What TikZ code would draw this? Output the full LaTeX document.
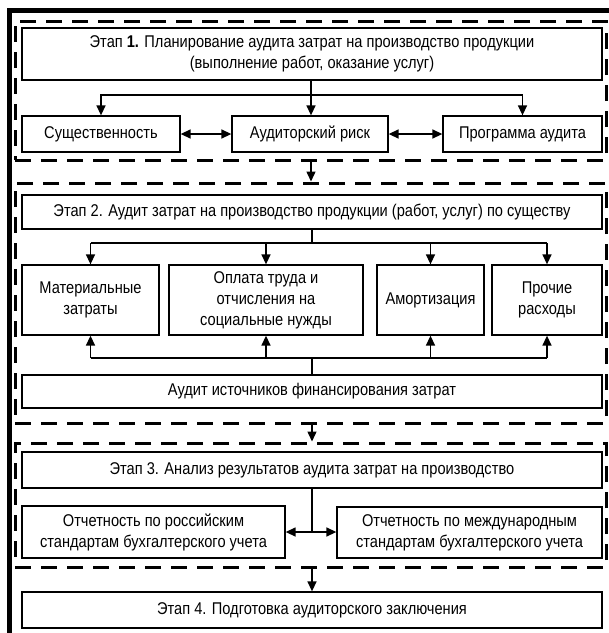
\documentclass[tikz,border=0pt]{standalone}
\usepackage{fontspec}
\setmainfont{Liberation Sans}[FakeStretch=0.86]
\usetikzlibrary{arrows.meta}
\begin{document}
\begin{tikzpicture}[x=1pt,y=-1pt,
  every node/.style={font=\fontsize{17}{21}\selectfont},
  box/.style={draw,line width=1.3pt,inner sep=0pt,align=center,fill=white},
  dbox/.style={draw,line width=3pt,dash pattern=on 16pt off 10pt,inner sep=0pt},
  arr/.style={line width=1.4pt,-{Triangle[length=10pt,width=9pt]}},
  darr/.style={line width=1.4pt,{Triangle[length=10pt,width=9pt]}-{Triangle[length=10pt,width=9pt]}},
  ln/.style={line width=1.4pt}]
\useasboundingbox (0,0) rectangle (609,633);
% outer frame
\draw[line width=4.5pt] (9.5,633) -- (9.5,10.5) -- (609,10.5);
% dashed frames
\node[dbox,minimum width=591pt,minimum height=139pt] (d1) at (310.5,90.5) {};
\node[dbox,minimum width=591pt,minimum height=240pt] (d2) at (310.5,303) {};
\node[dbox,minimum width=591pt,minimum height=124pt] (d3) at (310.5,505) {};
% stage 1
\node[box,minimum width=580pt,minimum height=52pt] (s1) at (312,54) {Этап \textbf{1.} Планирование аудита затрат на производство продукции\\(выполнение работ, оказание услуг)};
\node[box,minimum width=158pt,minimum height=36pt] (sus) at (101,134) {Существенность};
\node[box,minimum width=156pt,minimum height=36pt] (risk) at (310,134) {Аудиторский риск};
\node[box,minimum width=159pt,minimum height=36pt] (prog) at (522.5,134) {Программа аудита};
\coordinate (h1) at (311,95);
\draw[arr] (s1.south -| h1) -- (risk.north -| h1);
\draw[arr] (h1) -| (sus.north);
\draw[arr] (h1) -| (prog.north);
\draw[darr] (sus.east) -- (risk.west);
\draw[darr] (risk.east) -- (prog.west);
\draw[arr] (d1.south -| h1) -- (d2.north -| h1);
% stage 2
\node[box,minimum width=580pt,minimum height=34pt] (s2) at (312,212) {Этап 2. Аудит затрат на производство продукции (работ, услуг) по существу};
\node[box,minimum width=137pt,minimum height=70pt] (mat) at (90.5,300) {Материальные\\затраты};
\node[box,minimum width=194pt,minimum height=70pt] (opl) at (266,300) {Оплата труда и\\отчисления на\\социальные нужды};
\node[box,minimum width=107pt,minimum height=70pt] (am) at (430.5,300) {Амортизация};
\node[box,minimum width=110pt,minimum height=70pt] (pr) at (547,300) {Прочие\\расходы};
\node[box,minimum width=580pt,minimum height=33pt] (ist) at (312,391.5) {Аудит источников финансирования затрат};
\coordinate (h2) at (312,243);
\coordinate (h3) at (312,358);
\draw[ln] (s2.south) -- (h2);
\draw[ln] (h2 -| mat.north) -- (h2 -| pr.north);
\draw[arr] (h2 -| mat.north) -- (mat.north);
\draw[arr] (h2 -| opl.north) -- (opl.north);
\draw[arr] (h2 -| am.north) -- (am.north);
\draw[arr] (h2 -| pr.north) -- (pr.north);
\draw[ln] (ist.north) -- (h3);
\draw[ln] (h3 -| mat.south) -- (h3 -| pr.south);
\draw[arr] (h3 -| mat.south) -- (mat.south);
\draw[arr] (h3 -| opl.south) -- (opl.south);
\draw[arr] (h3 -| am.south) -- (am.south);
\draw[arr] (h3 -| pr.south) -- (pr.south);
\draw[arr] (d2.south -| h2) -- (d3.north -| h2);
% stage 3
\node[box,minimum width=580pt,minimum height=36pt] (s3) at (312,470) {Этап 3. Анализ результатов аудита затрат на производство};
\node[box,minimum width=263pt,minimum height=52pt] (rus) at (153.5,532) {Отчетность по российским\\стандартам бухгалтерского учета};
\node[box,minimum width=265pt,minimum height=51pt] (int) at (469.5,532.5) {Отчетность по международным\\стандартам бухгалтерского учета};
\coordinate (h4) at (312,532);
\draw[ln] (s3.south) -- (h4);
\draw[arr] (h4) -- (rus.east |- h4);
\draw[arr] (h4) -- (int.west |- h4);
% stage 4
\node[box,minimum width=580pt,minimum height=36pt] (s4) at (312,610) {Этап 4. Подготовка аудиторского заключения};
\draw[arr] (d3.south -| h4) -- (s4.north);
\end{tikzpicture}
\end{document}
